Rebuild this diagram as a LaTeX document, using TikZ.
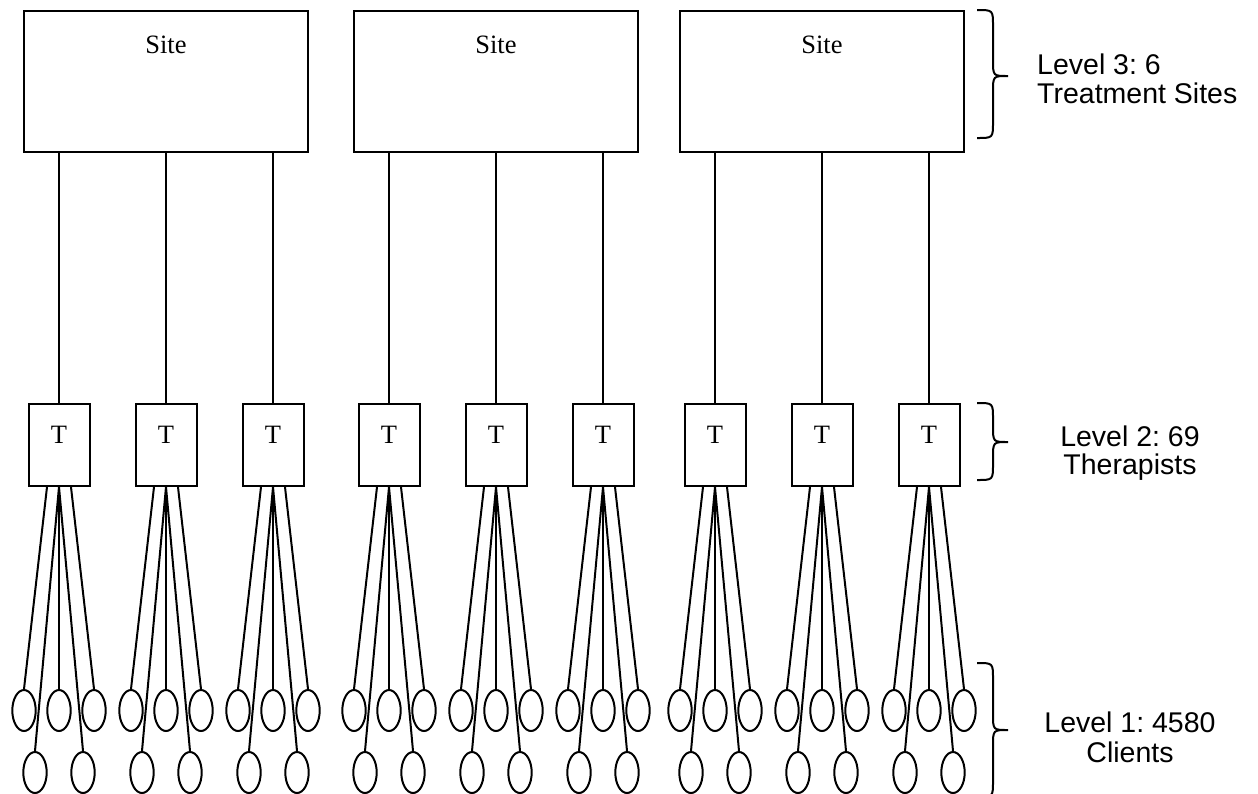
\documentclass[tikz,border=0pt]{standalone}
\usepackage{fontspec}
\setmainfont{Liberation Serif}
\setsansfont{Liberation Sans}
\frenchspacing
\usetikzlibrary{shapes.geometric}
\newcommand\mybrace[3]{%
  \draw[conn] (977,#1) .. controls (993,#1) .. (993,#1+16) -- (993,#2-16)
    .. controls (993,#2) .. (1008,#2) .. controls (993,#2) .. (993,#2+16)
    -- (993,#3-16) .. controls (993,#3) .. (977,#3);}
\begin{document}
\begin{tikzpicture}[x=1pt,y=-1pt,
  conn/.style={line width=2pt,black},
  sitebox/.style={draw,line width=2pt,fill=white,minimum width=284pt,inner xsep=0pt,inner ysep=0pt,
    text height=42pt,text depth=99pt,anchor=base,font=\fontsize{26.5}{28}\selectfont},
  tbox/.style={draw,line width=2pt,fill=white,minimum width=61pt,inner xsep=0pt,inner ysep=0pt,
    text height=39pt,text depth=43pt,anchor=base,font=\fontsize{26.5}{28}\selectfont},
  client/.style={draw,ellipse,line width=2pt,fill=white,minimum width=23.4pt,minimum height=41pt,inner sep=0pt},
  lvl/.style={inner sep=0pt,font=\sffamily\fontsize{28.5}{30}\selectfont}]
\useasboundingbox (0,0) rectangle (1258,793);
% sites
\node[sitebox] (s1) at (166,53) {Site};
\node[sitebox] (s2) at (496,53) {Site};
\node[sitebox] (s3) at (822,53) {Site};
% therapists
\foreach \c [count=\i] in {59,166,273,389,496,603,715,822,929}{
  \pgfmathtruncatemacro\s{int((\i-1)/3)+1}
  \node[tbox] (t\i) at (\c,443) {T};
  \draw[conn] (t\i.north |- s\s.south) -- (t\i.north);
  % clients
  \node[client] (a\i) at (\c-35,710.5) {};
  \node[client] (b\i) at (\c,710.5) {};
  \node[client] (c\i) at (\c+35,710.5) {};
  \node[client] (d\i) at (\c-24,772.5) {};
  \node[client] (f\i) at (\c+24,772.5) {};
  \draw[conn] ([xshift=-12pt]t\i.south) -- (a\i.north);
  \draw[conn] (t\i.south) -- (b\i.north);
  \draw[conn] ([xshift=12pt]t\i.south) -- (c\i.north);
  \draw[conn] (t\i.south) -- (d\i.north);
  \draw[conn] (t\i.south) -- (f\i.north);
}
% braces
\mybrace{10}{76}{138}
\mybrace{403}{442}{480}
\mybrace{663}{730}{797}
% level labels
\node[lvl,anchor=base west] (l3a) at (1037,74) {Level 3: 6};
\node[lvl,anchor=base west] (l3b) at (1037,103) {Treatment Sites};
\node[lvl,anchor=base] (l2a) at (1130,446) {Level 2: 69};
\node[lvl,anchor=base] (l2b) at (1130,474) {Therapists};
\node[lvl,anchor=base] (l1a) at (1130,732) {Level 1: 4580};
\node[lvl,anchor=base] (l1b) at (1130,762) {Clients};
\end{tikzpicture}
\end{document}
